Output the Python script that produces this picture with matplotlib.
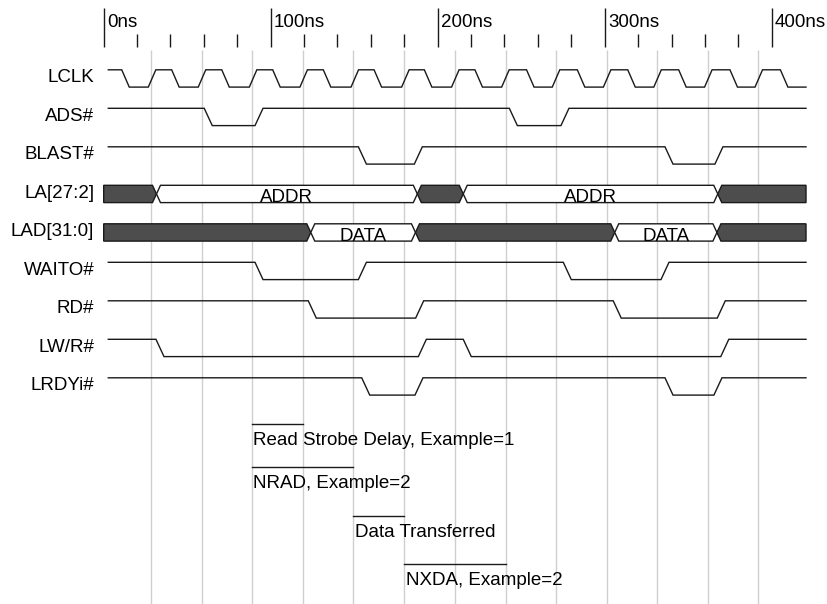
import numpy as np
import matplotlib
matplotlib.use("Agg")
import matplotlib.pyplot as plt
from matplotlib.patches import Polygon

plt.rcParams['font.family'] = ['Liberation Sans', 'DejaVu Sans']

# signal names, top to bottom
names = ["LCLK", "ADS#", "BLAST#", "LA[27:2]", "LAD[31:0]", "WAITO#", "RD#", "LW/R#", "LRDYi#"]

# clock edges in ns (time where the slope starts)
lclk_fall = [10.8, 40.7, 70.7, 101.2, 131.5, 161.9, 192.0, 222.3, 253.2, 283.6, 313.8, 344.3, 375.0, 405.2]
lclk_rise = [26.7, 56.6, 87.2, 117.5, 148.1, 178.4, 208.3, 238.3, 268.6, 299.2, 329.4, 359.8, 390.0]

# single bit signals: all start high and toggle at these times (ns)
ads = [60.2, 90.6, 242.9, 273.8]
blast = [152.5, 186.0, 336.1, 366.0]
waito = [90.6, 152.5, 275.2, 333.7]
rd = [122.5, 186.8, 305.1, 367.4]
lwr = [31.3, 188.4, 215.3, 369.5]
lrdy = [154.5, 186.4, 336.1, 365.4]

# buses: crossing times and what is on the bus (None = not valid)
la_cross = [31.6, 187.8, 215.3, 367.7]
la_vals = [None, "ADDR", None, "ADDR", None]
lad_cross = [124.0, 186.7, 306.0, 367.2]
lad_vals = [None, "DATA", None, "DATA", None]

# clock grid lines (ns)
grid_t = [28.1, 58.6, 88.6, 119.5, 149.5, 180.0, 210.1, 240.8, 270.9, 301.6, 331.2, 362.1, 392.0]

# timing notes under the diagram
notes = ["Read Strobe Delay, Example=1", "NRAD, Example=2", "Data Transferred", "NXDA, Example=2"]
note_from = [88.6, 88.6, 149.5, 180.0]
note_to = [119.5, 149.5, 180.0, 240.8]

# layout (pixels)
X0, PPN = 103.7, 1.67          # x pixel of 0ns, pixels per ns
def ns(px):
    return (px - X0) / PPN

ROW0, ROWSTEP, AMP = 69.8, 38.5, 17.3
T_START, T_END = ns(108.3), ns(806.0)
SLOPE = 4.8
FS = 13.5
LINE = '#1a1a1a'

fig = plt.figure(figsize=(8.28, 6.04), dpi=100)
ax = fig.add_axes([0, 0, 1, 1])
ax.set_xlim(ns(0), ns(828))
ax.set_ylim(604, 0)
ax.axis('off')

# grid
ax.vlines(grid_t, 50, 604, color='#cfcfcf', lw=1.0, zorder=0)

# time scale
major = np.arange(0, 401, 100)
minor = [t for t in np.arange(20, 400, 20) if t % 100 != 0]
ax.vlines(major, 8.3, 47.3, color=LINE, lw=1.0)
ax.vlines(minor, 34, 47.3, color=LINE, lw=1.0)
for t in major:
    ax.text(t + 2.0, 26.7, f"{t}ns", fontsize=FS, ha='left', va='baseline')


def wave(row, edges, slope):
    top = ROW0 + ROWSTEP * row
    lv = 1
    xs, ys = [T_START], [lv]
    for e in edges:
        xs += [e, e + slope]
        ys += [lv, 1 - lv]
        lv = 1 - lv
    xs.append(T_END)
    ys.append(lv)
    ys = [top + (1 - v) * AMP for v in ys]
    ax.plot(xs, ys, color=LINE, lw=1.0, solid_joinstyle='miter')


def bus(row, cross, vals, h=2.4):
    top = ROW0 + ROWSTEP * row
    bot = top + AMP
    mid = top + AMP / 2
    bounds = [0.0] + cross + [T_END]
    for i, v in enumerate(vals):
        a, b = bounds[i], bounds[i + 1]
        pts = []
        if i == 0:
            pts += [(a, bot), (a, top)]
        else:
            pts += [(a, mid), (a + h, top)]
        if i == len(vals) - 1:
            pts += [(b, top), (b, bot)]
        else:
            pts += [(b - h, top), (b, mid), (b - h, bot)]
        if i != 0:
            pts.append((a + h, bot))
        fc = '#4d4d4d' if v is None else 'white'
        ax.add_patch(Polygon(pts, closed=True, fc=fc, ec=LINE, lw=1.0, joinstyle='miter'))
        if v is not None:
            ax.text((a + b) / 2, bot - 0.3, v, fontsize=FS, ha='center', va='baseline')


wave(0, sorted(lclk_fall + lclk_rise), 4.5)
wave(1, ads, SLOPE)
wave(2, blast, SLOPE)
bus(3, la_cross, la_vals)
bus(4, lad_cross, lad_vals)
wave(5, waito, SLOPE)
wave(6, rd, SLOPE)
wave(7, lwr, SLOPE)
wave(8, lrdy, SLOPE)

for i, n in enumerate(names):
    ax.text(ns(94.3), ROW0 + ROWSTEP * i + 12.6, n, fontsize=FS, ha='right', va='baseline')

# timing notes
note_y = [424.3, 467.0, 515.7, 564.0]
for txt, a, b, y in zip(notes, note_from, note_to, note_y):
    ax.plot([a, b], [y, y], color=LINE, lw=1.0)
    ax.text(a + 0.8, y + 21, txt, fontsize=FS, ha='left', va='baseline')

fig.savefig("out.png", dpi=100)
